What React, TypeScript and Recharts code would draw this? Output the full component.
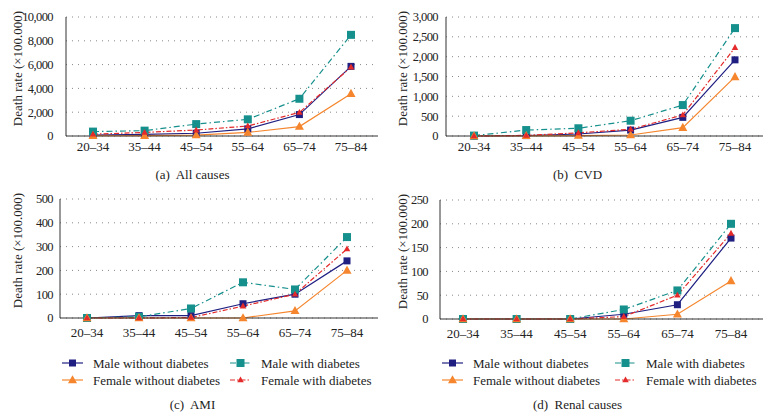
import React from 'react';
import { LineChart, Line, XAxis, YAxis, CartesianGrid } from 'recharts';

const FONT = '"Liberation Serif", "Times New Roman", "DejaVu Serif", serif';

// age bands on the x axis
const ageGroups = ['20–34', '35–44', '45–54', '55–64', '65–74', '75–84'];

// (a) all causes
const allMaleNo = [80, 140, 230, 600, 1800, 5850];
const allMaleDm = [370, 450, 1000, 1400, 3130, 8500];
const allFemaleNo = [20, 30, 80, 300, 790, 3560];
const allFemaleDm = [150, 300, 500, 840, 1980, 5790];

// (b) CVD
const cvdMaleNo = [0, 10, 50, 150, 470, 1920];
const cvdMaleDm = [10, 150, 195, 385, 780, 2720];
const cvdFemaleNo = [0, 5, 10, 25, 210, 1490];
const cvdFemaleDm = [0, 15, 80, 170, 530, 2230];

// (c) AMI
const amiMaleNo = [0, 10, 10, 60, 100, 240];
const amiMaleDm = [0, 5, 40, 150, 120, 340];
const amiFemaleNo = [0, 0, 0, 0, 30, 200];
const amiFemaleDm = [0, 0, 2, 50, 100, 290];

// (d) renal causes
const renalMaleNo = [0, 0, 0, 10, 30, 170];
const renalMaleDm = [0, 0, 0, 20, 60, 200];
const renalFemaleNo = [0, 0, 0, 0, 10, 80];
const renalFemaleDm = [0, 0, 0, 5, 50, 180];

const allTicks = [0, 2000, 4000, 6000, 8000, 10000];
const cvdTicks = [0, 500, 1000, 1500, 2000, 2500, 3000];
const amiTicks = [0, 100, 200, 300, 400, 500];
const renalTicks = [0, 50, 100, 150, 200, 250];

const SERIES = [
  { key: 'maleNo', name: 'Male without diabetes', color: '#1f1f82', dash: undefined, shape: 'square', size: 7 },
  { key: 'maleDm', name: 'Male with diabetes', color: '#16908c', dash: '6 3 1.5 3', shape: 'square', size: 8 },
  { key: 'femaleNo', name: 'Female without diabetes', color: '#f5862e', dash: undefined, shape: 'triangle', size: 9 },
  { key: 'femaleDm', name: 'Female with diabetes', color: '#e42a2a', dash: '5 2 1.5 2', shape: 'triangle', size: 6.5 },
];

function rows(maleNo: number[], maleDm: number[], femaleNo: number[], femaleDm: number[]) {
  return ageGroups.map((age, i) => ({
    age,
    maleNo: maleNo[i],
    maleDm: maleDm[i],
    femaleNo: femaleNo[i],
    femaleDm: femaleDm[i],
  }));
}

function Marker({ cx, cy, shape, size, color }: any) {
  if (cx == null || cy == null) return null;
  if (shape === 'square') {
    return <rect x={cx - size / 2} y={cy - size / 2} width={size} height={size} fill={color} />;
  }
  const h = size * 0.9;
  return (
    <polygon
      points={`${cx},${cy - h * 0.6} ${cx - size / 2},${cy + h * 0.4} ${cx + size / 2},${cy + h * 0.4}`}
      fill={color}
    />
  );
}

function fmt(v: number) {
  return v.toLocaleString('en-US');
}

// y tick labels in the original are set a little tighter than the x ones
function YTick({ x, y, payload }: any) {
  return (
    <text x={x} y={y} dy="0.35em" textAnchor="end" fontSize={12.5} letterSpacing={-0.6} fill="#222" fontFamily={FONT}>
      {fmt(payload.value)}
    </text>
  );
}

interface PanelProps {
  data: any[];
  ticks: number[];
  left: number;
  top: number;
  height: number;
  marginTop: number;
  yWidth: number;
  tickMargin: number;
  xTickMargin: number;
  pad: { left: number; right: number };
  labelX: number;
  caption: string;
  captionY: number;
}

function Panel(p: PanelProps) {
  const plotTop = p.marginTop;
  const plotBottom = p.height - 34;
  const labelY = (plotTop + plotBottom) / 2 - 8;
  return (
    <div style={{ position: 'absolute', left: p.left, top: p.top, width: 385, height: p.height }}>
      <LineChart
        width={385}
        height={p.height}
        data={p.data}
        margin={{ top: p.marginTop, right: 7, left: 0, bottom: 4 }}
        style={{ fontFamily: FONT }}
      >
        <CartesianGrid vertical={false} stroke="#888" strokeDasharray="1 5" />
        <XAxis
          dataKey="age"
          height={30}
          padding={p.pad}
          tickLine={false}
          axisLine={{ stroke: '#333' }}
          tick={{ fill: '#222', fontSize: 13, fontFamily: FONT }}
          tickMargin={p.xTickMargin}
          interval={0}
        />
        <XAxis xAxisId="top" dataKey="age" orientation="top" height={0} tick={false} tickLine={false} axisLine={{ stroke: '#333' }} />
        <YAxis
          width={p.yWidth}
          domain={[0, p.ticks[p.ticks.length - 1]]}
          ticks={p.ticks}
          tickLine={false}
          axisLine={{ stroke: '#333' }}
          tick={<YTick />}
          tickMargin={p.tickMargin}
          interval={0}
        />
        <YAxis yAxisId="right" orientation="right" width={0} tick={false} tickLine={false} axisLine={{ stroke: '#333' }} />
        {SERIES.map((s) => (
          <Line
            key={s.key}
            dataKey={s.key}
            name={s.name}
            stroke={s.color}
            strokeWidth={1.2}
            strokeDasharray={s.dash}
            isAnimationActive={false}
            dot={(d: any) => (
              <Marker key={`${s.key}-${d.index}`} cx={d.cx} cy={d.cy} shape={s.shape} size={s.size} color={s.color} />
            )}
            activeDot={false}
          />
        ))}
      </LineChart>
      <svg style={{ position: 'absolute', left: 0, top: 0 }} width={385} height={p.height} pointerEvents="none">
        <text
          x={p.labelX}
          y={labelY}
          transform={`rotate(-90, ${p.labelX}, ${labelY})`}
          textAnchor="middle"
          dominantBaseline="central"
          fontSize={13}
          fill="#222"
          fontFamily={FONT}
        >
          Death rate (×100.000)
        </text>
      </svg>
      <div
        style={{
          position: 'absolute',
          left: 0,
          width: 385,
          top: p.captionY,
          textAlign: 'center',
          fontSize: 13,
          color: '#222',
          fontFamily: FONT,
          whiteSpace: 'pre',
          lineHeight: '16px',
        }}
      >
        {p.caption}
      </div>
    </div>
  );
}

function LegendBox({ left, top, col2 }: { left: number; top: number; col2: number }) {
  const cols = [0, col2];
  return (
    <svg style={{ position: 'absolute', left, top }} width={340} height={40}>
      {SERIES.map((s, i) => {
        const x = cols[i % 2];
        const y = 8 + Math.floor(i / 2) * 17;
        return (
          <g key={s.key}>
            <line x1={x} x2={x + 21} y1={y} y2={y} stroke={s.color} strokeWidth={1.2} strokeDasharray={s.dash} />
            <Marker cx={x + 10.5} cy={y} shape={s.shape} size={s.size} color={s.color} />
            <text x={x + 31} y={y} dominantBaseline="central" fontSize={13} fill="#222" fontFamily={FONT}>
              {s.name}
            </text>
          </g>
        );
      })}
    </svg>
  );
}

export default function App() {
  return (
    <div style={{ position: 'absolute', left: 0, top: 0, width: 770, height: 420, background: '#fff', fontFamily: FONT }}>
      <Panel
        data={rows(allMaleNo, allMaleDm, allFemaleNo, allFemaleDm)}
        ticks={allTicks}
        left={0}
        top={0}
        height={170}
        marginTop={17}
        yWidth={66}
        tickMargin={7}
        xTickMargin={0}
        pad={{ left: 27, right: 27 }}
        labelX={17}
        caption="(a)  All causes"
        captionY={167}
      />
      <Panel
        data={rows(cvdMaleNo, cvdMaleDm, cvdFemaleNo, cvdFemaleDm)}
        ticks={cvdTicks}
        left={385}
        top={0}
        height={170}
        marginTop={17}
        yWidth={61}
        tickMargin={2}
        xTickMargin={0}
        pad={{ left: 28, right: 28 }}
        labelX={17}
        caption="(b)  CVD"
        captionY={167}
      />
      <Panel
        data={rows(amiMaleNo, amiMaleDm, amiFemaleNo, amiFemaleDm)}
        ticks={amiTicks}
        left={0}
        top={190}
        height={162}
        marginTop={9}
        yWidth={60}
        tickMargin={1}
        xTickMargin={4}
        pad={{ left: 27, right: 31 }}
        labelX={17}
        caption="(c)  AMI"
        captionY={207}
      />
      <Panel
        data={rows(renalMaleNo, renalMaleDm, renalFemaleNo, renalFemaleDm)}
        ticks={renalTicks}
        left={385}
        top={190}
        height={163}
        marginTop={10}
        yWidth={55}
        tickMargin={6}
        xTickMargin={4}
        pad={{ left: 23, right: 32 }}
        labelX={17}
        caption="(d)  Renal causes"
        captionY={207}
      />
      <LegendBox left={62} top={355} col2={168} />
      <LegendBox left={442} top={355} col2={173} />
    </div>
  );
}
